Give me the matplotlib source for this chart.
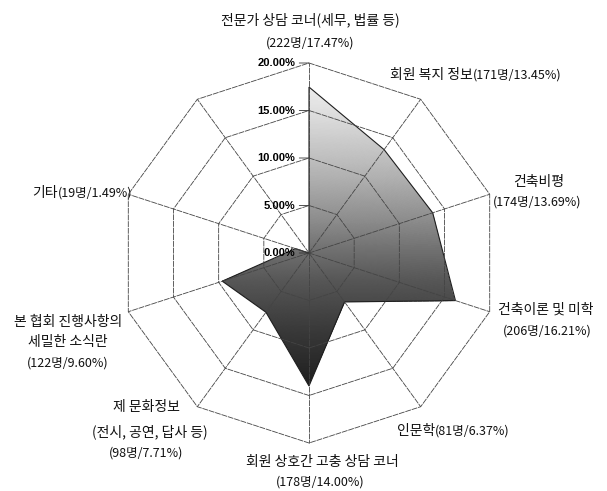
import numpy as np
import matplotlib
matplotlib.use("Agg")
import matplotlib.pyplot as plt
from matplotlib.colors import LinearSegmentedColormap, Normalize

plt.rcParams["font.family"] = ["Noto Sans CJK KR", "DejaVu Sans"]

# data: share of respondents (%), clockwise from the top; last spoke is unlabeled
categories = [
    "전문가 상담 코너(세무, 법률 등)", "회원 복지 정보", "건축비평", "건축이론 및 미학",
    "인문학", "회원 상호간 고충 상담 코너", "제 문화정보(전시, 공연, 답사 등)",
    "본 협회 진행사항의 세밀한 소식란", "기타", "",
]
counts = [222, 171, 174, 206, 81, 178, 98, 122, 19, 0]
shares = [17.47, 13.45, 13.69, 16.21, 6.37, 14.00, 7.71, 9.60, 1.49, 0.0]
ring_levels = [5, 10, 15, 20]
tick_levels = [0, 5, 10, 15, 20]

# label lines as printed around the chart: (words, figures, x px, y px, ha)
label_lines = [
    ("전문가 상담 코너(세무, 법률 등)", "", 310, 20, "center"),
    ("", "(222명/17.47%)", 310, 43, "center"),
    ("회원 복지 정보", "(171명/13.45%)", 390, 75, "left"),
    ("건축비평", "", 539, 182, "center"),
    ("", "(174명/13.69%)", 537, 202, "center"),
    ("건축이론 및 미학", "", 546, 310, "center"),
    ("", "(206명/16.21%)", 547, 331, "center"),
    ("인문학", "(81명/6.37%)", 397, 431, "left"),
    ("회원 상호간 고충 상담 코너", "", 322, 462, "center"),
    ("", "(178명/14.00%)", 320, 482, "center"),
    ("제 문화정보", "", 146, 407, "center"),
    ("(전시, 공연, 답사 등)", "", 150, 432, "center"),
    ("", "(98명/7.71%)", 146, 453, "center"),
    ("본 협회 진행사항의", "", 68, 322, "center"),
    ("세밀한 소식란", "", 68, 342, "center"),
    ("", "(122명/9.60%)", 68, 363, "center"),
    ("기타", "(19명/1.49%)", 32, 193, "left"),
]

W, H = 607, 491
cx, cy, R = 309, 253, 190

fig = plt.figure(figsize=(W / 100, H / 100), dpi=100)
fig.patch.set_facecolor("white")
ax = fig.add_axes([(cx - R) / W, (H - cy - R) / H, 2 * R / W, 2 * R / H], projection="polar")
ax.set_theta_zero_location("N")
ax.set_theta_direction(-1)
ax.set_ylim(0, 20)
ax.set_xticks([])
ax.set_yticks([])
ax.grid(False)
ax.spines["polar"].set_visible(False)
ax.patch.set_alpha(0)

n = len(categories)
theta = np.arange(n) * 2 * np.pi / n
theta_closed = np.append(theta, theta[0])
vals_closed = np.append(shares, shares[0])

# filled polygon with a light-to-dark vertical gradient (scanned print look)
poly = ax.fill(theta_closed, vals_closed, facecolor="none", edgecolor="#1e1e1e",
               linewidth=0.8, zorder=3)[0]
cmap = LinearSegmentedColormap.from_list("scan", [
    (0.00, "#1e1e1e"), (0.19, "#3a3a3a"), (0.34, "#555555"), (0.44, "#6e6e6e"),
    (0.56, "#909090"), (0.72, "#b8b8b8"), (0.88, "#dadada"), (1.00, "#f0f0f0")])
tg, rg = np.meshgrid(np.linspace(0, 2 * np.pi, 361), np.linspace(0, 20, 121))
mesh = ax.pcolormesh(tg, rg, rg * np.cos(tg), cmap=cmap,
                     norm=Normalize(vmin=-14, vmax=18), shading="auto", zorder=2)
mesh.set_clip_path(poly)

# decagon grid
grid_kw = dict(color="#444444", linewidth=0.6, linestyle=(0, (7, 1)), clip_on=False, zorder=4)
for lv in ring_levels:
    ax.plot(theta_closed, [lv] * (n + 1), **grid_kw)
for t in theta:
    ax.plot([t, t], [0, 20], **grid_kw)

# radial tick labels
for lv in tick_levels:
    ax.annotate(f"{lv:.2f}%", xy=(0, lv), xytext=(-10, 0), textcoords="offset points",
                ha="right", va="center", fontsize=8, fontweight="bold",
                family=["Liberation Sans", "DejaVu Sans"], zorder=6,
                arrowprops=dict(arrowstyle="-", lw=0.6, color="#333333", shrinkA=1, shrinkB=0))

# category labels: words at 10pt, the (count/share) part a little smaller
for words, figures, x, y, ha in label_lines:
    pos = (x / W, 1 - y / H)
    if words:
        t = fig.text(*pos, words, ha=ha, va="center", fontsize=10, color="#111111")
        if figures:
            ax.annotate(figures, xy=(1, 0.5), xycoords=t, ha="left", va="center",
                        fontsize=9, color="#111111", annotation_clip=False)
    else:
        fig.text(*pos, figures, ha=ha, va="center", fontsize=9, color="#111111")

fig.savefig("out.png", dpi=100, facecolor="white")
